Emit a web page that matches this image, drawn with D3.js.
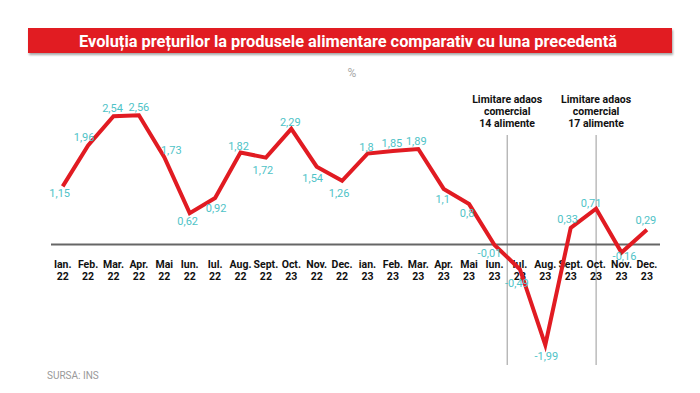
<!DOCTYPE html>
<html>
<head>
<meta charset="utf-8">
<script src="https://cdn.jsdelivr.net/npm/d3@7"></script>
<style>
  body { margin: 0; background: #fff; }
  svg { display: block; font-family: Roboto, 'Noto Sans', sans-serif; }
</style>
</head>
<body>
<div id="chart"></div>
<script>
'use strict';

// month / year labels for the x axis (two lines)
const months = ['Ian.', 'Feb.', 'Mar.', 'Apr.', 'Mai', 'Iun.', 'Iul.', 'Aug.', 'Sept.', 'Oct.', 'Nov.', 'Dec.',
  'ian.', 'Feb.', 'Mar.', 'Apr.', 'Mai', 'Iun.', 'Iul.', 'Aug.', 'Sept.', 'Oct.', 'Nov.', 'Dec.'];
const years = ['22', '22', '22', '22', '22', '22', '22', '22', '22', '23', '22', '22',
  '23', '23', '23', '23', '23', '23', '23', '23', '23', '23', '23', '23'];
const values = [1.15, 1.96, 2.54, 2.56, 1.73, 0.62, 0.92, 1.82, 1.72, 2.29, 1.54, 1.26,
  1.8, 1.85, 1.89, 1.1, 0.8, -0.01, -0.49, -1.99, 0.33, 0.71, -0.16, 0.29];
const valueText = ['1,15', '1,96', '2,54', '2,56', '1,73', '0,62', '0,92', '1,82', '1,72', '2,29', '1,54', '1,26',
  '1,8', '1,85', '1,89', '1,1', '0,8', '-0,01', '-0,49', '-1,99', '0,33', '0,71', '-0,16', '0,29'];

// annotations: position on the index axis and text lines
const notes = [
  { at: 17.5, lines: ['Limitare adaos', 'comercial', '14 alimente'] },
  { at: 21, lines: ['Limitare adaos', 'comercial', '17 alimente'] }
];

// where each value label sits relative to its point [dx, dy]
const labelOffsets = [[-3, 7], [-4, -9], [-1, -8], [0, -8], [7, -7], [-2, 8], [1, 10], [-2, -7],
  [-3, 12], [-1, -7], [-4, 11], [-3, 12], [-1, -7], [-1, -8], [-2, -8], [-1, 10],
  [-2, 9], [-5, 8], [-3, 14], [1, 11], [-3, -9], [-5, -6], [3, 3], [-1, -10]];

const width = 700, height = 393;
const red = '#e11b22', teal = '#4fc3c7';

const svg = d3.select('#chart').append('svg')
  .attr('width', width).attr('height', height);

// title banner
const defs = svg.append('defs');
const shadow = defs.append('filter').attr('id', 'shadow')
  .attr('x', '-5%').attr('y', '-30%').attr('width', '110%').attr('height', '170%');
shadow.append('feDropShadow').attr('dx', 1).attr('dy', 2).attr('stdDeviation', 1.2)
  .attr('flood-color', '#000').attr('flood-opacity', 0.35);

svg.append('rect')
  .attr('x', 28).attr('y', 28).attr('width', 644).attr('height', 25)
  .attr('fill', red).attr('filter', 'url(#shadow)');

svg.append('text')
  .attr('x', 348).attr('y', 46.5)
  .attr('text-anchor', 'middle')
  .attr('fill', '#fff').style('font-weight', 700).style('font-size', '16px')
  .attr('textLength', 538).attr('lengthAdjust', 'spacingAndGlyphs')
  .text('Evoluția prețurilor la produsele alimentare comparativ cu luna precedentă');

svg.append('text')
  .attr('x', 352).attr('y', 77).attr('text-anchor', 'middle')
  .attr('fill', '#aaa').style('font-size', '12px')
  .text('%');

// scales
const x = d3.scaleLinear().domain([0, values.length - 1]).range([62.7, 646.9]);
const y = d3.scaleLinear().domain([-2, 2.56]).range([345.5, 115.2]);

// annotation lines + text
notes.forEach(n => {
  svg.append('line')
    .attr('x1', x(n.at)).attr('x2', x(n.at))
    .attr('y1', 135).attr('y2', 365)
    .attr('stroke', '#999').attr('stroke-width', 1);
  const t = svg.append('text')
    .attr('text-anchor', 'middle').style('font-size', '10.5px').style('font-weight', 700)
    .attr('fill', '#111');
  n.lines.forEach((l, i) => {
    t.append('tspan').attr('x', x(n.at)).attr('y', 103 + i * 12).text(l);
  });
});

// zero line
svg.append('line')
  .attr('x1', 51).attr('x2', 660)
  .attr('y1', y(0)).attr('y2', y(0))
  .attr('stroke', '#666').attr('stroke-width', 2);

// x labels
const xl = svg.append('g').selectAll('text').data(months).enter().append('text')
  .attr('text-anchor', 'middle').style('font-size', '10.5px').style('font-weight', 700)
  .attr('fill', '#111');
xl.append('tspan').attr('x', (d, i) => x(i)).attr('y', 268).text(d => d);
xl.append('tspan').attr('x', (d, i) => x(i)).attr('y', 280).text((d, i) => years[i]);

// line
const line = d3.line().x((d, i) => x(i)).y(d => y(d));
svg.append('path')
  .datum(values)
  .attr('d', line)
  .attr('fill', 'none').attr('stroke', red)
  .attr('stroke-width', 4).attr('stroke-linejoin', 'miter').attr('stroke-miterlimit', 10);

// value labels
svg.append('g').selectAll('text').data(values).enter().append('text')
  .attr('x', (d, i) => x(i) + labelOffsets[i][0])
  .attr('y', (d, i) => y(d) + labelOffsets[i][1] + 4)
  .attr('text-anchor', 'middle').style('font-size', '11px')
  .attr('fill', teal)
  .text((d, i) => valueText[i]);

svg.append('text')
  .attr('x', 47).attr('y', 379)
  .attr('fill', '#999').style('font-size', '10px')
  .text('SURSA: INS');
</script>
</body>
</html>
